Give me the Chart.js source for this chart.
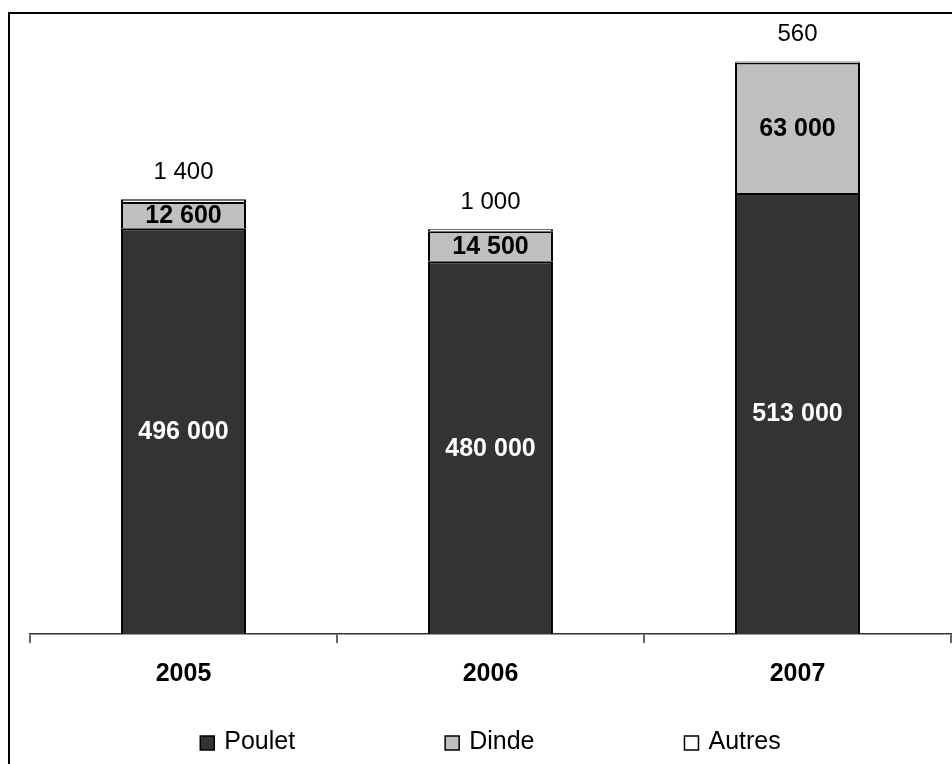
<!DOCTYPE html>
<html>
<head>
<meta charset="utf-8">
<script src="https://cdn.jsdelivr.net/npm/chart.js@4/dist/chart.umd.min.js"></script>
<style>
  html, body { margin: 0; padding: 0; background: #fff; }
  canvas { display: block; }
</style>
</head>
<body>
<canvas id="chart" width="952" height="764"></canvas>
<script>
// Production by species (values per year)
const years = ['2005', '2006', '2007'];
const seriesNames = ['Poulet', 'Dinde', 'Autres'];
const poulet = [496000, 480000, 513000];
const dinde = [12600, 14500, 63000];
const autres = [1400, 1000, 560];

const FONT = '"Liberation Sans", Arial, sans-serif';

// French-style thousands grouping: 496000 -> "496 000"
function fmt(v) {
  return String(v).replace(/\B(?=(\d{3})+(?!\d))/g, ' ');
}

// Value labels: white bold inside Poulet, black bold inside Dinde, plain above Autres
const valueLabels = {
  id: 'valueLabels',
  afterDatasetsDraw(chart) {
    const ctx = chart.ctx;
    const area = chart.chartArea;
    ctx.save();
    ctx.textAlign = 'center';
    ctx.textBaseline = 'middle';
    chart.data.datasets.forEach((ds, di) => {
      const meta = chart.getDatasetMeta(di);
      meta.data.forEach((bar, i) => {
        const p = bar.getProps(['x', 'y', 'base'], true);
        const text = fmt(ds.data[i]);
        if (di === 2) {
          ctx.font = '24px ' + FONT;
          ctx.fillStyle = '#000';
          ctx.fillText(text, p.x, p.y - 27);
        } else {
          const bottom = Math.min(p.base, area.bottom);
          ctx.font = 'bold 25px ' + FONT;
          ctx.fillStyle = di === 0 ? '#fff' : '#000';
          ctx.fillText(text, p.x, (p.y + bottom) / 2 + 1);
        }
      });
    });
    ctx.restore();
  }
};

// Legend row along the bottom, built from the datasets
const bottomLegend = {
  id: 'bottomLegend',
  afterDraw(chart) {
    const ctx = chart.ctx;
    const area = chart.chartArea;
    const box = 14, gapText = 10, gapItem = 150, y = 743;
    ctx.save();
    ctx.font = '25px ' + FONT;
    ctx.textBaseline = 'middle';
    ctx.textAlign = 'left';
    const items = chart.data.datasets.map(ds => ({
      label: ds.label, fill: ds.backgroundColor,
      w: box + gapText + ctx.measureText(ds.label).width
    }));
    const total = items.reduce((s, it) => s + it.w, 0) + gapItem * (items.length - 1);
    let x = (area.left + area.right) / 2 - total / 2;
    items.forEach(it => {
      ctx.fillStyle = it.fill;
      ctx.fillRect(x, y - box / 2, box, box);
      ctx.lineWidth = 1.5;
      ctx.strokeStyle = '#000';
      ctx.strokeRect(x, y - box / 2, box, box);
      ctx.fillStyle = '#000';
      ctx.fillText(it.label, x + box + gapText, y - 1);
      x += it.w + gapItem;
    });
    ctx.restore();
  }
};

// Frame lines along the top and left edge
const frame = {
  id: 'frame',
  afterDraw(chart) {
    const ctx = chart.ctx;
    ctx.save();
    ctx.strokeStyle = '#000';
    ctx.lineWidth = 2;
    ctx.beginPath();
    ctx.moveTo(9, chart.height);
    ctx.lineTo(9, 13);
    ctx.lineTo(chart.width, 13);
    ctx.stroke();
    ctx.restore();
  }
};

const colors = ['#333333', '#c0c0c0', '#ffffff'];
const values = [poulet, dinde, autres];

new Chart(document.getElementById('chart'), {
  type: 'bar',
  data: {
    labels: years,
    datasets: seriesNames.map((name, i) => ({
      label: name,
      data: values[i],
      backgroundColor: colors[i],
      borderColor: '#000',
      borderWidth: 2,
      // upper segments share the top edge of the segment below
      borderSkipped: i === 0 ? false : 'bottom',
      categoryPercentage: 1,
      barPercentage: 0.407
    }))
  },
  options: {
    responsive: false,
    animation: false,
    devicePixelRatio: 1,
    layout: { padding: { left: 30, right: 1, top: 16, bottom: 0 } },
    plugins: {
      legend: { display: false },
      tooltip: { enabled: false }
    },
    scales: {
      x: {
        stacked: true,
        offset: true,
        grid: {
          offset: true,
          drawOnChartArea: false,
          drawTicks: true,
          tickLength: 9,
          color: '#666',
          lineWidth: 2
        },
        border: { display: true, color: '#333', width: 1.5 },
        ticks: {
          color: '#000',
          padding: 16,
          font: { family: FONT, size: 25, weight: 'bold' }
        },
        afterFit(scale) { scale.height = 130; }
      },
      y: {
        stacked: true,
        display: false,
        min: 300000,
        max: 598500
      }
    }
  },
  plugins: [valueLabels, bottomLegend, frame]
});
</script>
</body>
</html>
